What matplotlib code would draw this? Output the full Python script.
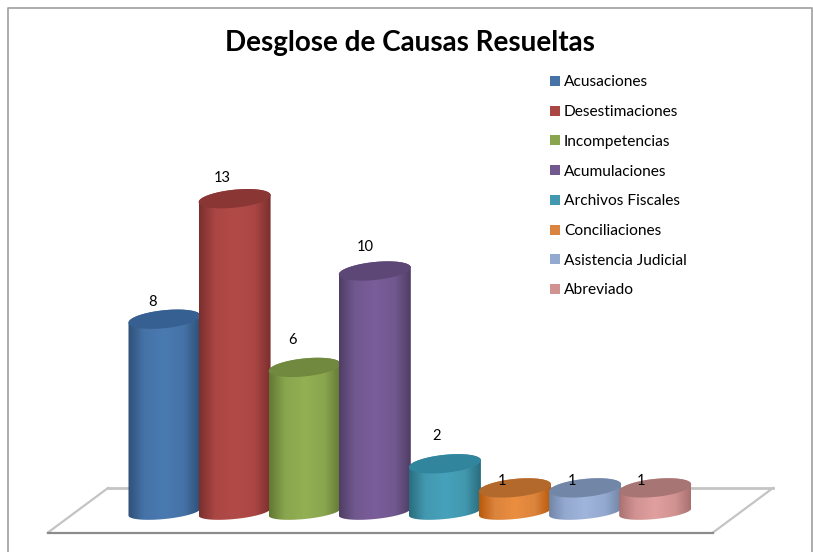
import numpy as np
import matplotlib
matplotlib.use("Agg")
import matplotlib.pyplot as plt
from matplotlib.colors import LinearSegmentedColormap
from matplotlib.lines import Line2D
from matplotlib.patches import Patch, Polygon

plt.rcParams['font.family'] = ['Lato', 'DejaVu Sans']

W, H = 813, 552
# one value unit / one category in pixels
BASE_PX, UNIT_PX = 512.0, 24.1
X0_PX, STEP_PX = 164.5, 70.1

categories = ["Acusaciones", "Desestimaciones", "Incompetencias", "Acumulaciones",
              "Archivos Fiscales", "Conciliaciones", "Asistencia Judicial", "Abreviado"]
values = [8, 13, 6, 10, 2, 1, 1, 1]
legend_colors = ["#4573A7", "#AA4644", "#89A54E", "#71588F",
                 "#4298AF", "#DB843D", "#93A9CF", "#D19392"]
light_colors = ["#4A7AB2", "#B24B48", "#93B054", "#7A5D9A",
                "#46A2BA", "#EB8E3F", "#9FB5DC", "#DFA09F"]
edge_colors = ["#2F5078", "#7A2F2D", "#627833", "#503E65",
               "#2A6D7F", "#B95A0B", "#7286A9", "#A97170"]
top_colors = ["#376092", "#8A3634", "#71893F", "#5C4776",
              "#31859C", "#B3682C", "#7286A8", "#A67574"]
label_dx = [-12, -12, -12, -10, -8, -13, -13, -14]
label_dy = [-17, -21, -27, -24, -28, -7, -7, -7]

fig = plt.figure(figsize=(W / 100, H / 100), dpi=100)
ax = fig.add_axes([0, 0, 1, 1])
ax.axis("off")


def px_x(p):
    return (p - X0_PX) / STEP_PX


def px_y(p):
    return (BASE_PX - p) / UNIT_PX


# chart frame, open at the bottom where the picture cuts it off
frame_x = np.array([7.5, 7.5, 811.5, 811.5]) / W
frame_y = 1 - np.array([552, 7.5, 7.5, 552]) / H
fig.add_artist(Line2D(frame_x, frame_y, color="#a6a6a6", lw=1.3, transform=fig.transFigure))

ax.text(px_x(410), px_y(42.5), "Desglose de Causas Resueltas", fontsize=20.1,
        fontweight="bold", ha="center", va="center", color="black")

# floor
floor_x = [px_x(48), px_x(713), px_x(773), px_x(108)]
floor_y = [px_y(532.5), px_y(532.5), px_y(488), px_y(488)]
ax.plot(floor_x[2:], floor_y[2:], color="#c4c4c4", lw=2, zorder=1)
ax.plot([floor_x[0], floor_x[3]], [floor_y[0], floor_y[3]], color="#c4c4c4", lw=1.6, zorder=1)
ax.plot(floor_x[1:3], floor_y[1:3], color="#c4c4c4", lw=1.6, zorder=1)
ax.plot(floor_x[:2], floor_y[:2], color="#8c8c8c", lw=1.6, zorder=1)

half_w = 36 / STEP_PX
semi_b = 9 / UNIT_PX
base_b = 7 / UNIT_PX
tilt = (3.5 / UNIT_PX) / half_w
t = np.linspace(0, 2 * np.pi, 200)
lo = np.linspace(np.pi, 2 * np.pi, 100)
hi = np.linspace(0, np.pi, 100)

for i, v in enumerate(values):
    cmap = LinearSegmentedColormap.from_list(
        "cyl", [(0, edge_colors[i]), (0.22, legend_colors[i]), (0.5, light_colors[i]),
                (0.78, legend_colors[i]), (1, edge_colors[i])])
    z = 2 + i * 0.1
    dx = half_w * np.cos(t)
    # body outline: lower half of base ellipse, then back along the top ellipse
    body_x = np.r_[i + half_w * np.cos(lo), i + half_w * np.cos(hi)]
    body_y = np.r_[base_b * np.sin(lo) + tilt * half_w * np.cos(lo),
                   v + semi_b * np.sin(hi) + tilt * half_w * np.cos(hi)]
    body = Polygon(np.c_[body_x, body_y], closed=True, fc="none", ec="none", zorder=z)
    ax.add_patch(body)
    im = ax.imshow(np.linspace(0, 1, 128)[None, :], cmap=cmap, aspect="auto", zorder=z,
                   extent=(i - half_w, i + half_w, -1, v + 1), interpolation="bilinear")
    im.set_clip_path(body)
    top = Polygon(np.c_[i + dx, v + semi_b * np.sin(t) + tilt * dx], closed=True,
                  fc=top_colors[i], ec="none", zorder=z + 0.01)
    ax.add_patch(top)
    ax.text(i + label_dx[i] / STEP_PX, v - label_dy[i] / UNIT_PX, str(v), fontsize=10.5,
            ha="center", va="center", color="black", zorder=5)

# imshow resets the limits, so set them after the cylinders
ax.set_xlim(px_x(0), px_x(W))
ax.set_ylim(px_y(H), px_y(0))

handles = [Patch(fc=c, ec="none") for c in legend_colors]
ax.legend(handles, categories, loc="upper left", frameon=False, fontsize=11.2,
          bbox_to_anchor=(550 / W, 1 - 75.5 / H), borderaxespad=0, borderpad=0,
          handlelength=0.62, handleheight=0.62, handletextpad=0.28, labelspacing=1.01)

fig.savefig("out.png", dpi=100)
